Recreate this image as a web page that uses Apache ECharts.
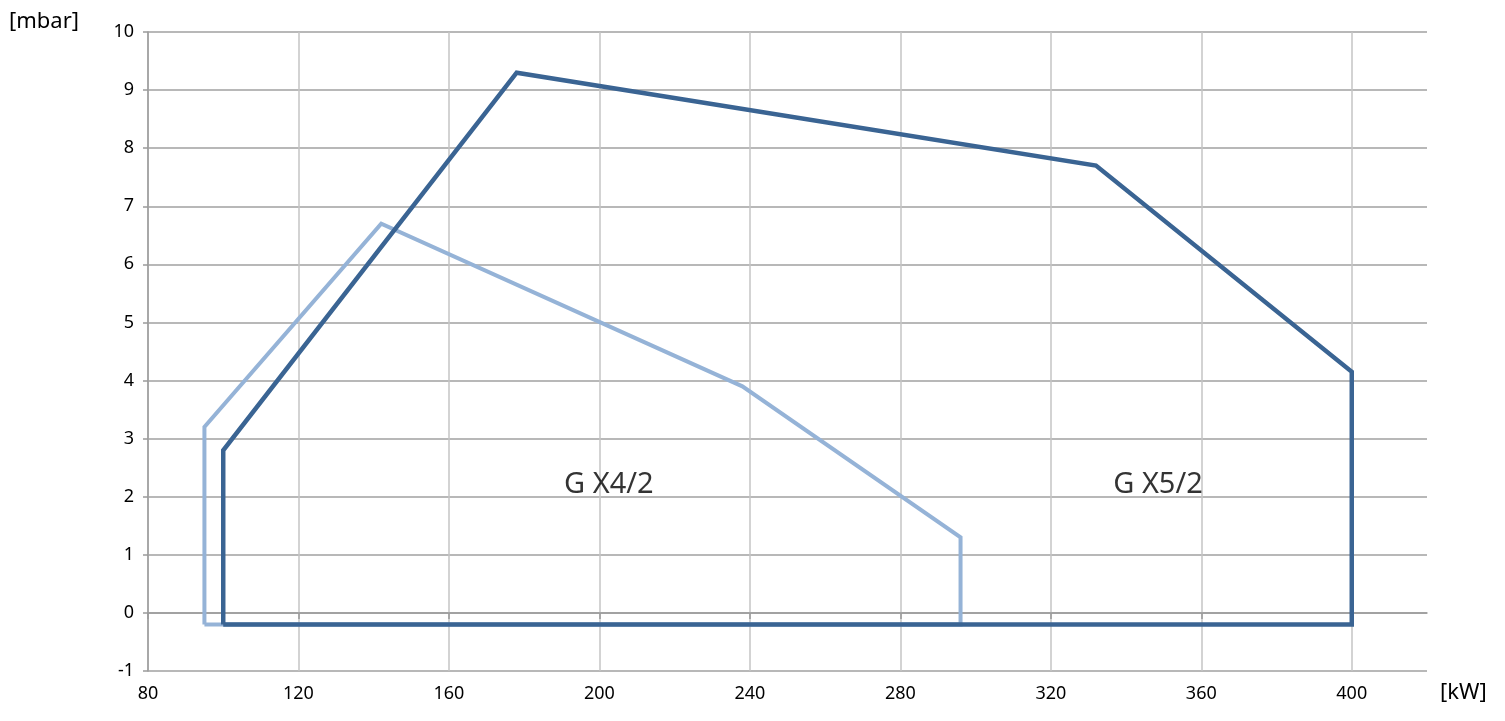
<!DOCTYPE html>
<html>
<head>
<meta charset="utf-8">
<script src="https://cdn.jsdelivr.net/npm/echarts@6/dist/echarts.min.js"></script>
<style>html,body{margin:0;padding:0;background:#fff;}#c{width:1505px;height:721px;}</style>
</head>
<body>
<div id="c"></div>
<script>
const xTickLabels = [80, 120, 160, 200, 240, 280, 320, 360, 400];
const yTickLabels = [-1, 0, 1, 2, 3, 4, 5, 6, 7, 8, 9, 10];
const gx4Points = [[95, -0.2], [95, 3.2], [142, 6.7], [238, 3.9], [296, 1.3], [296, -0.2], [95, -0.2]];
const gx5Points = [[100, -0.2], [100, 2.8], [178, 9.3], [332, 7.7], [400, 4.15], [400, -0.2], [100, -0.2]];
const modelLabels = ['G X4/2', 'G X5/2'];
const modelLabelPos = [[202.5, 2.2], [348.5, 2.2]];

const FONT = 'Noto Sans';
const chart = echarts.init(document.getElementById('c'));
chart.setOption({
  animation: false,
  backgroundColor: '#fff',
  grid: { left: 148, right: 78, top: 32, bottom: 50 },
  xAxis: {
    type: 'value', min: 80, max: 420, interval: 20,
    axisLine: { show: true, lineStyle: { color: '#9a9a9a', width: 1.5 } },
    axisTick: { show: true, customValues: xTickLabels, length: 6, lineStyle: { color: '#9a9a9a', width: 1.5 } },
    axisLabel: { customValues: xTickLabels, color: '#000', fontFamily: FONT, fontSize: 18, margin: 14 },
    splitLine: { show: true, lineStyle: { color: '#c4c4c4', width: 1.5 } }
  },
  yAxis: {
    type: 'value', min: -1, max: 10, interval: 1,
    axisLine: { show: true, lineStyle: { color: '#9a9a9a', width: 1.5 } },
    axisTick: { show: true, length: 5, lineStyle: { color: '#9a9a9a', width: 1.5 } },
    axisLabel: { color: '#000', fontFamily: FONT, fontSize: 18, margin: 14 },
    splitLine: { show: true, lineStyle: { color: '#a0a0a0', width: 1.5 } }
  },
  graphic: [
    { type: 'text', left: 9, top: 11, style: { text: '[mbar]', fill: '#000', font: '22px "Noto Sans"' } },
    { type: 'text', left: 1440, top: 682, style: { text: '[kW]', fill: '#000', font: '22px "Noto Sans"' } }
  ],
  series: [
    {
      type: 'line', data: gx4Points, showSymbol: false, symbol: 'none',
      lineStyle: { color: '#95b3d7', width: 4, join: 'miter' }, z: 3
    },
    {
      type: 'line', data: gx5Points, showSymbol: false, symbol: 'none',
      lineStyle: { color: '#3a6493', width: 4.5, join: 'miter' }, z: 4
    },
    {
      type: 'scatter', symbolSize: 0, z: 5,
      data: modelLabels.map((n, i) => ({ name: n, value: modelLabelPos[i] })),
      label: { show: true, position: 'inside', formatter: '{b}', color: '#000', fontFamily: FONT, fontSize: 29 }
    }
  ]
});
</script>
</body>
</html>
